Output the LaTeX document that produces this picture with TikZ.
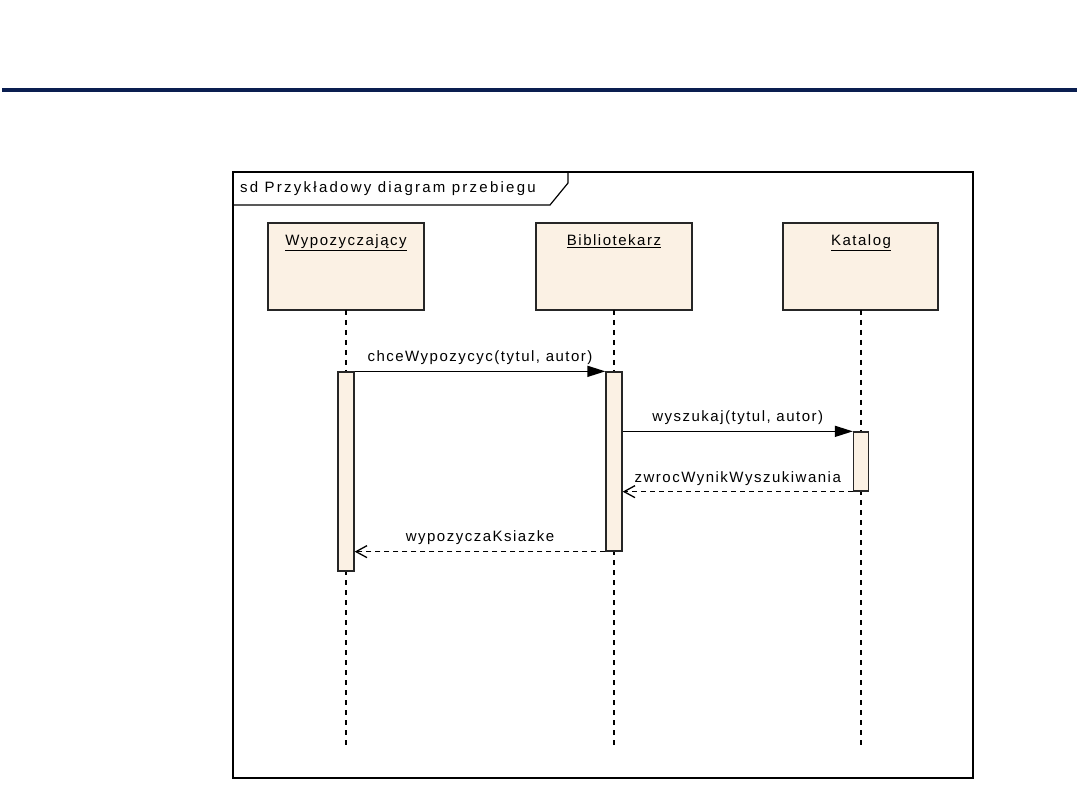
\documentclass[tikz,border=0pt]{standalone}
\usepackage{fontspec}
\usetikzlibrary{arrows.meta}
\newfontfamily\umlfont{Liberation Sans}[LetterSpace=10]
\newfontfamily\umltitlefont{Liberation Sans}[LetterSpace=15]
\definecolor{navy}{HTML}{0A1E50}
\definecolor{beige}{HTML}{FBF1E4}
\tikzset{
  umltext/.style={font=\umlfont\fontsize{15}{17}\selectfont, inner sep=0pt},
  titletext/.style={font=\umltitlefont\fontsize{15}{17}\selectfont, inner sep=0pt},
  lifebox/.style={draw=black!85, line width=1.3pt, fill=beige},
  actbox/.style={draw=black!85, line width=1.3pt, fill=beige},
  lifeline/.style={black, line width=1.3pt, dash pattern=on 5pt off 5pt},
  callmsg/.style={black, line width=1.5pt, -{Triangle[length=18pt,width=11pt]}},
  retmsg/.style={black, line width=1.3pt, dash pattern=on 5pt off 4pt, -{Straight Barb[length=11pt,width=12pt]}},
}
\begin{document}
\begin{tikzpicture}[x=1pt,y=-1pt]
\useasboundingbox (0,0) rectangle (1080,810);
% top rule
\fill[navy] (2,88) rectangle (1077,92);
% frame
\draw[black, line width=1.6pt] (233,172) rectangle (973,778);
\draw[black, line width=1.2pt] (233,205) -- (550,205) -- (568,183) -- (568,172);
\node[titletext, anchor=west] (title) at (240,189) {sd Przykładowy diagram przebiegu};
% lifeline heads
\draw[lifebox] (268,223) rectangle (424,310);
\draw[lifebox] (536,223) rectangle (692,310);
\draw[lifebox] (783,223) rectangle (938,310);
\node[umltext, anchor=base] (hA) at (346,246) {\underline{Wypozyczający}};
\node[umltext, anchor=base] (hB) at (614,246) {\underline{Bibliotekarz}};
\node[umltext, anchor=base] (hC) at (861,246) {\underline{Katalog}};
\coordinate (aTop) at (346,310);
\coordinate (bTop) at (614,310);
\coordinate (cTop) at (861,310);
\coordinate (aEnd) at (346,745);
\coordinate (bEnd) at (614,745);
\coordinate (cEnd) at (861,745);
% lifelines
\draw[lifeline] (aTop) -- (aEnd);
\draw[lifeline] (bTop) -- (bEnd);
\draw[lifeline] (cTop) -- (cEnd);
% activations
\node[actbox, minimum width=16pt, minimum height=199pt, inner sep=0pt] (actA) at (346,471.5) {};
\node[actbox, minimum width=16pt, minimum height=179pt, inner sep=0pt] (actB) at (614,461.5) {};
\node[actbox, minimum width=15pt, minimum height=59pt, inner sep=0pt] (actC) at (861,461.5) {};
% messages
\draw[callmsg] (actA.north east) -- (actB.north west)
  node[umltext, midway, above=6pt] (m1) {chceWypozycyc(tytul, autor)};
\draw[callmsg] (actB.east |- actC.north) -- (actC.north west)
  node[umltext, midway, above=6pt] (m2) {wyszukaj(tytul, autor)};
\draw[retmsg] (actC.south west) -- (actB.east |- actC.south)
  node[umltext, midway, above=5pt] (m3) {zwrocWynikWyszukiwania};
\draw[retmsg] (actB.south west) -- (actA.east |- actB.south)
  node[umltext, midway, above=6pt] (m4) {wypozyczaKsiazke};
\end{tikzpicture}
\end{document}
